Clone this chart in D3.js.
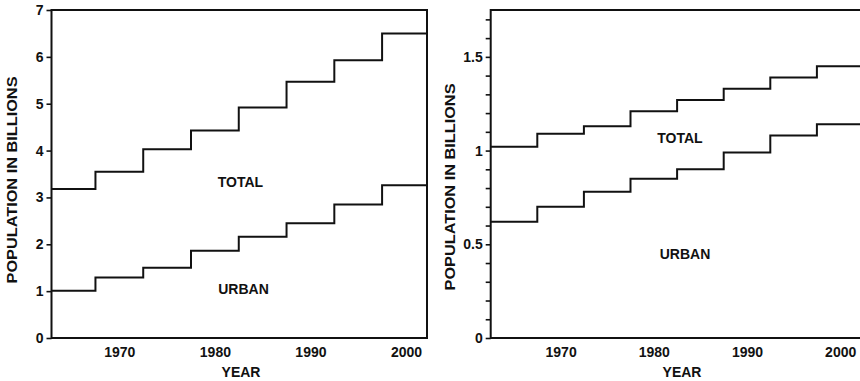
<!DOCTYPE html>
<html>
<head>
<meta charset="utf-8">
<script src="https://cdn.jsdelivr.net/npm/d3@7"></script>
<style>
  html, body { margin: 0; padding: 0; background: #fff; }
  svg { display: block; }
  text { font-family: "Liberation Sans", Arial, sans-serif; font-weight: bold; fill: #111; }
</style>
</head>
<body>
<svg id="chart" width="860" height="381"></svg>
<script>
// Five-year periods, labelled by their mid-year (each level spans mid ± 2.5 years)
const periodMids = [1965, 1970, 1975, 1980, 1985, 1990, 1995, 2000];

// World population, billions
const worldTotal = [3.18, 3.55, 4.03, 4.43, 4.92, 5.47, 5.93, 6.50];
const worldUrban = [1.01, 1.29, 1.50, 1.86, 2.16, 2.45, 2.85, 3.26];

// Second panel, billions
const panelTotal = [1.02, 1.09, 1.13, 1.21, 1.27, 1.33, 1.39, 1.45];
const panelUrban = [0.62, 0.70, 0.78, 0.85, 0.90, 0.99, 1.08, 1.14];

// Axis tick labels
const yearTicks = [1970, 1980, 1990, 2000];
const leftYTicks = [0, 1, 2, 3, 4, 5, 6, 7];
const rightYTicks = [0, 0.1, 0.2, 0.3, 0.4, 0.5, 0.6, 0.7, 0.8, 0.9, 1.0, 1.1, 1.2, 1.3, 1.4, 1.5, 1.6, 1.7];
const rightYLabelled = [0, 0.5, 1, 1.5];

const svg = d3.select("#chart");
const ink = "#111";

function stepPoints(values, domainEnd) {
  const pts = values.map((v, i) => [periodMids[i] - 2.5, v]);
  pts.push([domainEnd, values[values.length - 1]]);
  return pts;
}

function panel(cfg) {
  const g = svg.append("g");
  const x = d3.scaleLinear().domain(cfg.xDomain).range(cfg.xRange);
  const y = d3.scaleLinear().domain(cfg.yDomain).range([338, 10]);

  const clipId = "clip" + cfg.id;
  g.append("clipPath").attr("id", clipId)
    .append("rect")
    .attr("x", cfg.xRange[0]).attr("y", 8)
    .attr("width", cfg.xRange[1] - cfg.xRange[0]).attr("height", 332);

  // y axis
  const yAxis = d3.axisLeft(y).tickValues(cfg.yTicks).tickSize(5).tickPadding(3)
    .tickFormat(cfg.yFormat);
  const ya = g.append("g").attr("transform", `translate(${cfg.xRange[0]},0)`).call(yAxis);
  ya.select(".domain").remove();
  ya.selectAll(".tick line").attr("stroke", ink).attr("stroke-width", 1.6);
  ya.selectAll(".tick text").style("font-size", "14px").attr("fill", ink)
    .attr("font-family", null);

  // x axis labels (no tick marks)
  const xAxis = d3.axisBottom(x).tickValues(yearTicks).tickSize(0).tickPadding(9)
    .tickFormat(d3.format("d"));
  const xa = g.append("g").attr("transform", "translate(0,338)").call(xAxis);
  xa.select(".domain").remove();
  xa.selectAll(".tick text").style("font-size", "14px").attr("fill", ink)
    .attr("font-family", null);

  // frame
  const x0 = cfg.xRange[0], x1 = cfg.xRange[1];
  g.append("path")
    .attr("d", `M${x0},${y(cfg.yDomain[1])}H${x1}V${y(0)}H${x0}Z`)
    .attr("fill", "none").attr("stroke", ink).attr("stroke-width", 2);

  // step lines
  const line = d3.line().x(d => x(d[0])).y(d => y(d[1])).curve(d3.curveStepAfter);
  [cfg.total, cfg.urban].forEach(vals => {
    g.append("path")
      .attr("clip-path", `url(#${clipId})`)
      .attr("d", line(stepPoints(vals, cfg.xDomain[1])))
      .attr("fill", "none").attr("stroke", ink).attr("stroke-width", 2);
  });

  // series labels
  g.append("text").attr("x", cfg.totalLabel[0]).attr("y", cfg.totalLabel[1])
    .attr("text-anchor", "middle").style("font-size", "14px").text("TOTAL");
  g.append("text").attr("x", cfg.urbanLabel[0]).attr("y", cfg.urbanLabel[1])
    .attr("text-anchor", "middle").style("font-size", "14px").text("URBAN");

  // axis titles
  g.append("text").attr("x", cfg.yearPos[0]).attr("y", cfg.yearPos[1])
    .attr("text-anchor", "middle").style("font-size", "14px").text("YEAR");
  g.append("text")
    .attr("transform", `translate(${cfg.yTitlePos[0]},${cfg.yTitlePos[1]}) rotate(-90)`)
    .attr("text-anchor", "middle").attr("dy", "0.36em")
    .attr("textLength", 207).attr("lengthAdjust", "spacingAndGlyphs")
    .style("font-size", "14px").text("POPULATION IN BILLIONS");
}

panel({
  id: "L",
  xDomain: [1962.9, 2002.2], xRange: [51.5, 427],
  yDomain: [0, 7], yTicks: leftYTicks, yFormat: d3.format("d"),
  total: worldTotal, urban: worldUrban,
  totalLabel: [240.5, 186.5], urbanLabel: [243.5, 293.5],
  yearPos: [241, 377], yTitlePos: [12, 180]
});

panel({
  id: "R",
  xDomain: [1962.5, 2002.5], xRange: [490.7, 863.5],
  yDomain: [0, 1.75], yTicks: rightYTicks,
  yFormat: d => rightYLabelled.some(v => Math.abs(v - d) < 1e-9) ? d3.format("~g")(d) : "",
  total: panelTotal, urban: panelUrban,
  totalLabel: [680, 142.5], urbanLabel: [685, 258.5],
  yearPos: [682, 377], yTitlePos: [450, 187]
});
</script>
</body>
</html>
